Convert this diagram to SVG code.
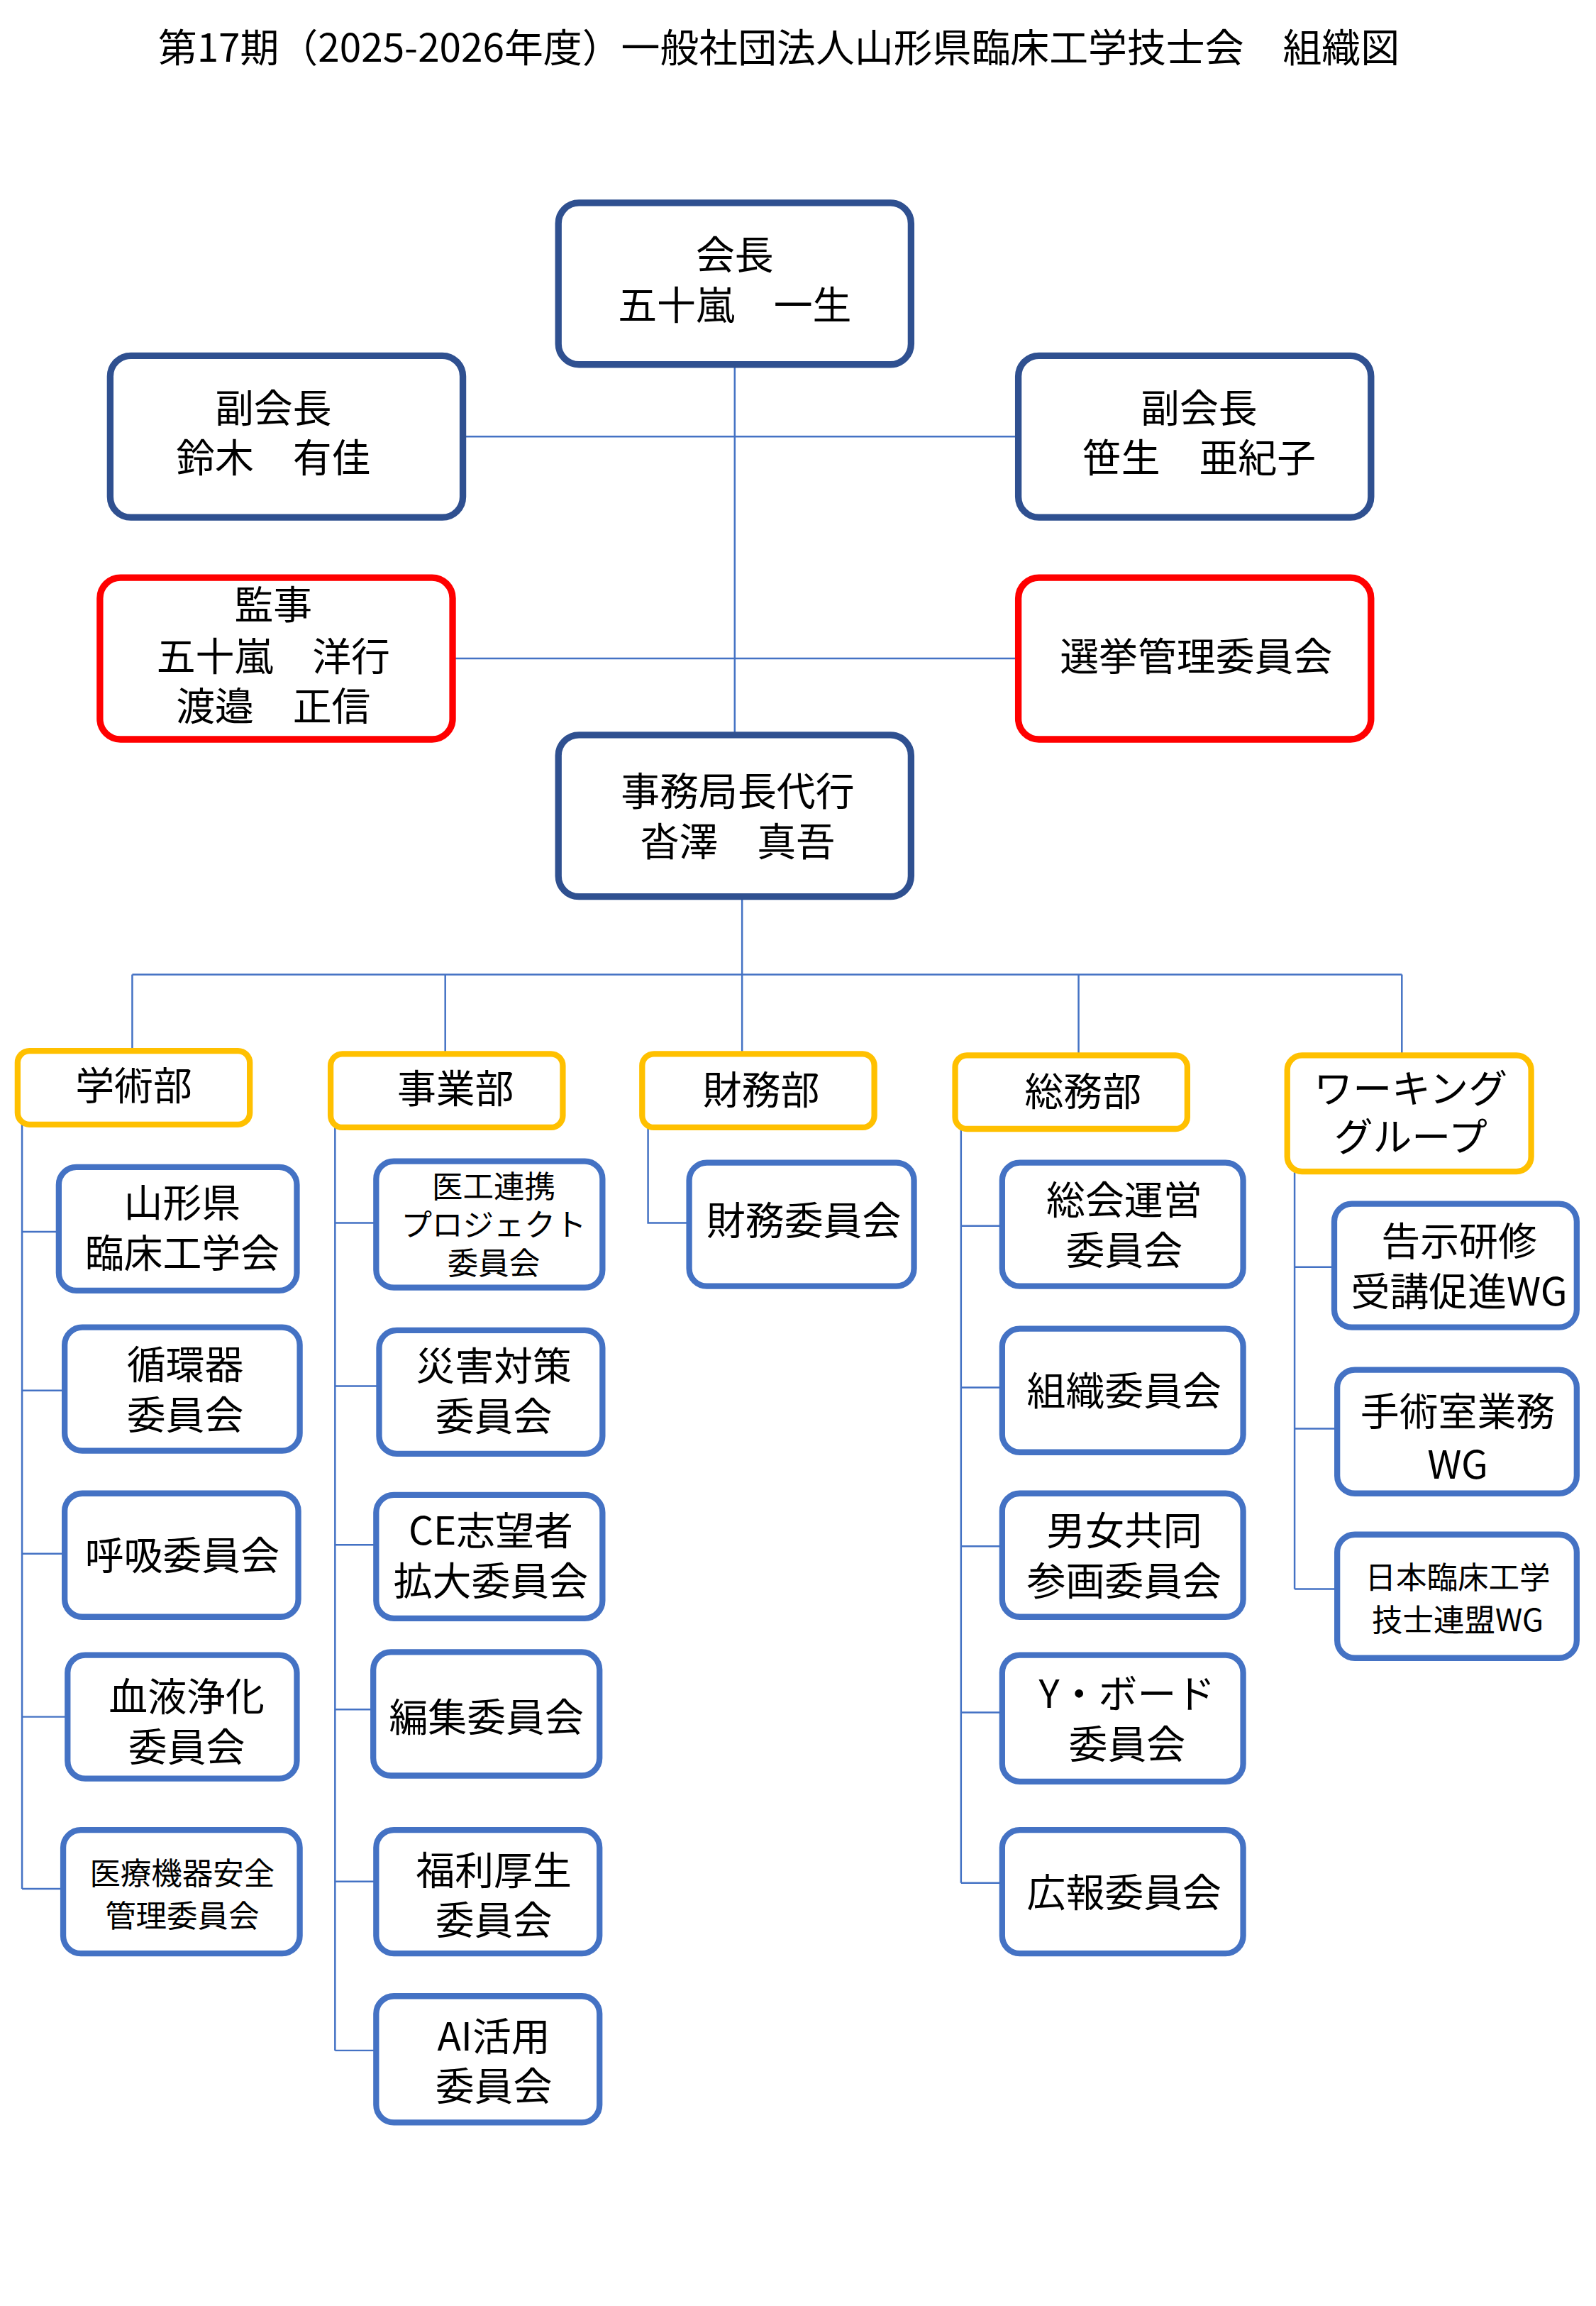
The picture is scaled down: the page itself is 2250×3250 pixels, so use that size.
<svg xmlns="http://www.w3.org/2000/svg" width="2250" height="3250" viewBox="0 0 2250 3250">
<style>
text{font-family:"Noto Sans CJK JP","Noto Sans",sans-serif;font-size:26.5px;text-anchor:middle;fill:#000}
.s{font-size:21px}
.m{fill:#fff;stroke:#2F5090;stroke-width:4.5}
.r{fill:#fff;stroke:#FF0000;stroke-width:4.5}
.y{fill:#fff;stroke:#FFC000;stroke-width:4}
.b{fill:#fff;stroke:#4472C4;stroke-width:4}
.l{fill:none;stroke:#4472C4;stroke-width:1.2}
</style>
<rect width="2250" height="3250" fill="#fff"/>
<g transform="scale(2.0716)">
<text x="530" y="42" style="font-size:26.5px">第17期（2025-2026年度）一般社団法人山形県臨床工学技士会　組織図</text>
<g id="connectors">
<path class="l" d="M500 248V500M315 297H693M308 448H693M505 610V663M90 663H954M90 663V715M303 663V717M505 663V717M734 663V718M954 663V718"/>
<path class="l" d="M15 765V1285M15 838H40M15 946H44M15 1057H44M15 1168H46M15 1285H43"/>
<path class="l" d="M228 767V1395M228 832H256M228 943H258M228 1051H256M228 1163H254M228 1280H256M228 1395H256"/>
<path class="l" d="M441 767V832H469"/>
<path class="l" d="M654 768V1281M654 834H682M654 944H682M654 1052H682M654 1165H682M654 1281H682"/>
<path class="l" d="M881 797V1081M881 862H908M881 972H910M881 1081H910"/>
</g>
<g id="kaicho"><rect class="m" x="380" y="138" width="240" height="110" rx="14"/><text x="500" y="183">会長</text><text x="500" y="217">五十嵐　一生</text></g>
<g id="fuku1"><rect class="m" x="75" y="242" width="240" height="110" rx="14"/><text x="186" y="287">副会長</text><text x="186" y="321">鈴木　有佳</text></g>
<g id="fuku2"><rect class="m" x="693" y="242" width="240" height="110" rx="14"/><text x="816" y="287">副会長</text><text x="816" y="321">笹生　亜紀子</text></g>
<g id="kanji"><rect class="r" x="68" y="393" width="240" height="110" rx="14"/><text x="186" y="421">監事</text><text x="186" y="456">五十嵐　洋行</text><text x="186" y="490">渡邉　正信</text></g>
<g id="senkyo"><rect class="r" x="693" y="393" width="240" height="110" rx="14"/><text x="814" y="456">選挙管理委員会</text></g>
<g id="jimu"><rect class="m" x="380" y="500" width="240" height="110" rx="14"/><text x="502" y="548">事務局長代行</text><text x="502" y="582">沓澤　真吾</text></g>
<g id="gakujutsu"><rect class="y" x="12" y="715" width="158" height="50" rx="8"/><text x="91" y="748">学術部</text></g>
<g id="jigyo"><rect class="y" x="225" y="717" width="158" height="50" rx="8"/><text x="310" y="750">事業部</text></g>
<g id="zaimu"><rect class="y" x="437" y="717" width="158" height="50" rx="8"/><text x="518" y="751">財務部</text></g>
<g id="somu"><rect class="y" x="650" y="718" width="158" height="50" rx="8"/><text x="737" y="752">総務部</text></g>
<g id="wg"><rect class="y" x="876" y="718" width="166" height="79" rx="10"/><text x="960" y="750">ワーキング</text><text x="960" y="783">グループ</text></g>
<g id="g1"><rect class="b" x="40" y="794" width="162" height="84" rx="12"/><text x="124" y="828">山形県</text><text x="124" y="862">臨床工学会</text></g>
<g id="g2"><rect class="b" x="44" y="903" width="160" height="84" rx="12"/><text x="126" y="938">循環器</text><text x="126" y="972">委員会</text></g>
<g id="g3"><rect class="b" x="44" y="1016" width="159" height="84" rx="12"/><text x="124" y="1068">呼吸委員会</text></g>
<g id="g4"><rect class="b" x="46" y="1126" width="156" height="84" rx="12"/><text x="127" y="1164">血液浄化</text><text x="127" y="1198">委員会</text></g>
<g id="g5"><rect class="b" x="43" y="1245" width="161" height="84" rx="12"/><text class="s" x="124" y="1282">医療機器安全</text><text class="s" x="124" y="1311">管理委員会</text></g>
<g id="j1"><rect class="b" x="256" y="790" width="154" height="86" rx="12"/><text class="s" x="336" y="815">医工連携</text><text class="s" x="336" y="841">プロジェクト</text><text class="s" x="336" y="867">委員会</text></g>
<g id="j2"><rect class="b" x="258" y="905" width="152" height="84" rx="12"/><text x="336" y="939">災害対策</text><text x="336" y="973">委員会</text></g>
<g id="j3"><rect class="b" x="256" y="1017" width="154" height="84" rx="12"/><text x="334" y="1051">CE志望者</text><text x="334" y="1085">拡大委員会</text></g>
<g id="j4"><rect class="b" x="254" y="1124" width="154" height="84" rx="12"/><text x="331" y="1178">編集委員会</text></g>
<g id="j5"><rect class="b" x="256" y="1245" width="152" height="84" rx="12"/><text x="336" y="1282">福利厚生</text><text x="336" y="1316">委員会</text></g>
<g id="j6"><rect class="b" x="256" y="1358" width="152" height="86" rx="12"/><text x="336" y="1395">AI活用</text><text x="336" y="1429">委員会</text></g>
<g id="z1"><rect class="b" x="469" y="791" width="153" height="84" rx="12"/><text x="547" y="840">財務委員会</text></g>
<g id="s1"><rect class="b" x="682" y="791" width="164" height="84" rx="12"/><text x="765" y="826">総会運営</text><text x="765" y="860">委員会</text></g>
<g id="s2"><rect class="b" x="682" y="904" width="164" height="84" rx="12"/><text x="765" y="956">組織委員会</text></g>
<g id="s3"><rect class="b" x="682" y="1016" width="164" height="84" rx="12"/><text x="765" y="1051">男女共同</text><text x="765" y="1085">参画委員会</text></g>
<g id="s4"><rect class="b" x="682" y="1126" width="164" height="86" rx="12"/><text x="767" y="1162">Y・ボード</text><text x="767" y="1196">委員会</text></g>
<g id="s5"><rect class="b" x="682" y="1245" width="164" height="84" rx="12"/><text x="765" y="1297">広報委員会</text></g>
<g id="w1"><rect class="b" x="908" y="819" width="165" height="84" rx="12"/><text x="993" y="854">告示研修</text><text x="993" y="888">受講促進WG</text></g>
<g id="w2"><rect class="b" x="910" y="932" width="163" height="84" rx="12"/><text x="992" y="970">手術室業務</text><text x="992" y="1006">WG</text></g>
<g id="w3"><rect class="b" x="910" y="1044" width="163" height="84" rx="12"/><text class="s" x="992" y="1081">日本臨床工学</text><text class="s" x="992" y="1110">技士連盟WG</text></g>
</g>
</svg>
